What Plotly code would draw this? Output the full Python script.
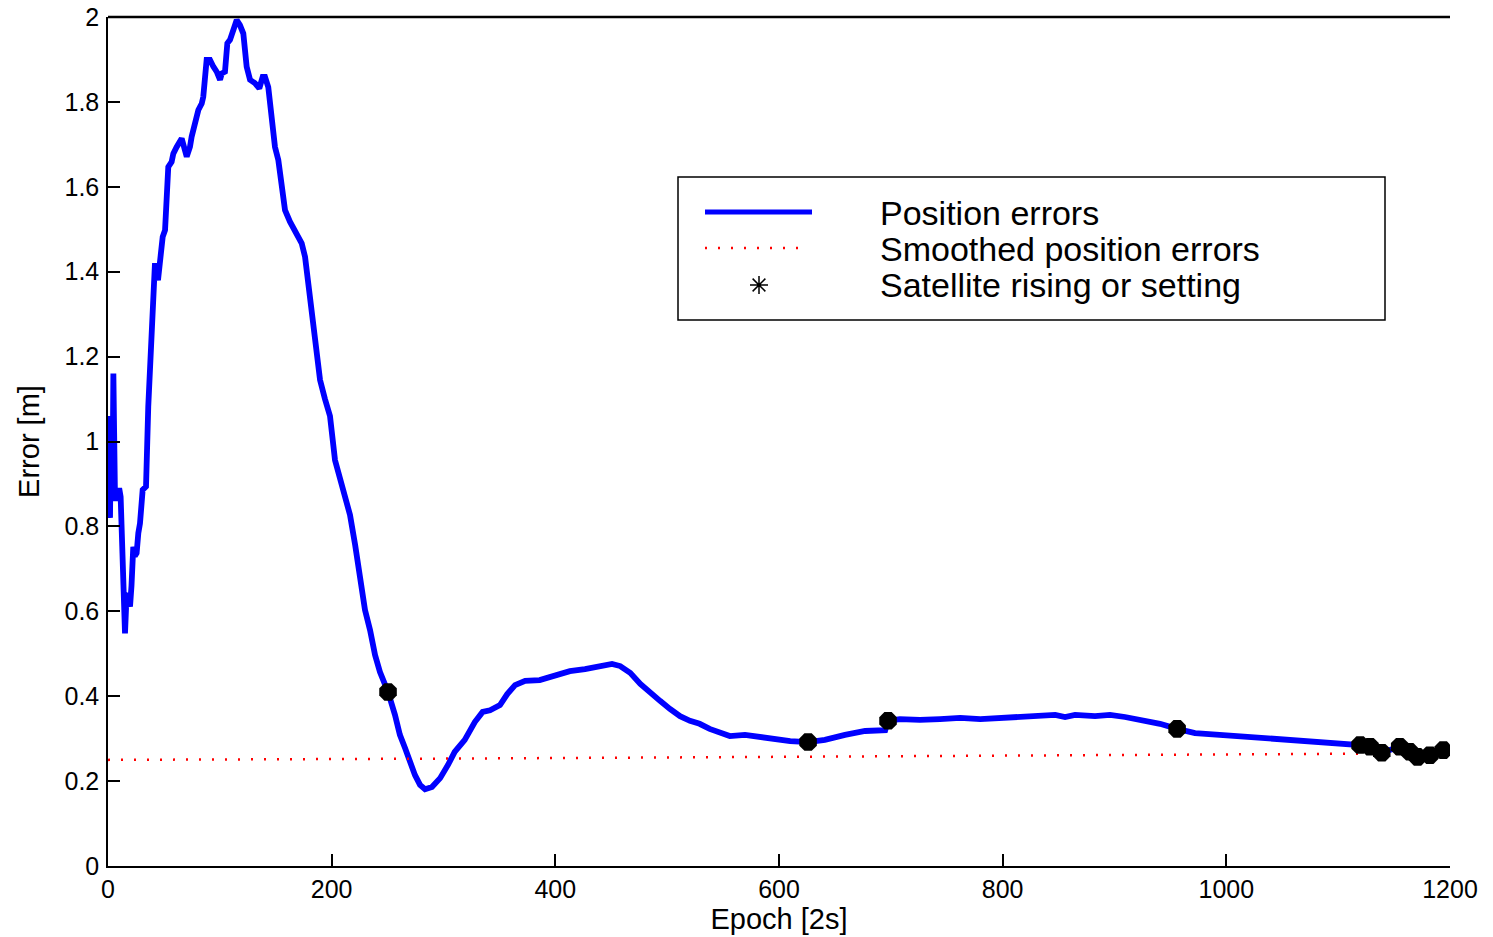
import plotly.graph_objects as go

# ---------------- data ----------------
epoch = [0, 0.5, 1.2, 1.8, 2.5, 3.3, 4.2, 4.8, 5.5, 6.3, 7.2, 8.5, 10, 11.3, 12.2, 13.8, 15.2,
         16.7, 18.3, 19.7, 21, 22.6, 24, 25.6, 27.1, 28.6, 31, 34, 36, 38.5, 40.3, 42, 44.7,
         46.5, 48.9, 51, 53.9, 56.9, 58.4, 61.4, 65.9, 70.4, 73.3, 74.8, 77.8, 80.8, 83.8,
         85.2, 88.2, 91.2, 94.2, 97.2, 100.2, 101.7, 104.6, 106.7, 109.1, 112, 115.1, 118,
         121, 124, 127, 131.4, 135.3, 138.3, 140.4, 143.3, 146.3, 149.3, 152.3, 155.3, 158.3,
         162.7, 165.7, 170.2, 173.2, 176.2, 180.6, 185, 189.6, 194, 198.5, 203, 207.5, 212,
         216.4, 221, 225.3, 229.8, 234.3, 238.8, 243.2, 250.4, 256.6, 261, 265.6, 270, 274.5,
         279, 283.5, 289.7, 297, 304, 310, 319, 328, 335, 341.6, 350.5, 357, 364, 373, 386,
         400, 413, 426.5, 440, 450.7, 458, 467, 476, 484.7, 493.6, 502.5, 511.5, 520.4, 529,
         538, 547, 556, 569.6, 583, 596.4, 610, 626, 641, 659, 677, 695, 697.5, 708, 726, 744,
         762, 780, 797.6, 815.5, 829, 847, 855.8, 864.7, 882.6, 896, 909.4, 922.8, 940.7, 956,
         972, 994, 1021, 1048, 1075, 1101.7, 1119.6, 1128.5, 1139, 1151, 1155, 1164, 1171,
         1182, 1194]
position_error = [1.06, 0.83, 1.05, 0.82, 1.0, 0.86, 0.95, 1.16, 1.02, 0.86, 0.89, 0.87,
                  0.89, 0.87, 0.81, 0.68, 0.548, 0.643, 0.63, 0.611, 0.66, 0.752, 0.73, 0.737,
                  0.784, 0.807, 0.886, 0.894, 1.082, 1.239, 1.3, 1.42, 1.38, 1.435, 1.482,
                  1.498, 1.647, 1.659, 1.678, 1.694, 1.714, 1.671, 1.694, 1.718, 1.749, 1.781,
                  1.796, 1.812, 1.899, 1.899, 1.883, 1.871, 1.852, 1.867, 1.871, 1.938, 1.946,
                  1.969, 1.993, 1.981, 1.961, 1.883, 1.852, 1.844, 1.832, 1.859, 1.859, 1.835,
                  1.757, 1.694, 1.663, 1.6, 1.545, 1.518, 1.502, 1.482, 1.467, 1.435, 1.33,
                  1.23, 1.145, 1.1, 1.06, 0.956, 0.91, 0.862, 0.827, 0.756, 0.674, 0.603,
                  0.556, 0.497, 0.457, 0.41, 0.356, 0.309, 0.278, 0.245, 0.214, 0.191, 0.181,
                  0.186, 0.207, 0.238, 0.269, 0.297, 0.339, 0.363, 0.367, 0.379, 0.405, 0.426,
                  0.436, 0.438, 0.448, 0.459, 0.464, 0.471, 0.476, 0.471, 0.455, 0.429, 0.408,
                  0.389, 0.37, 0.353, 0.342, 0.335, 0.323, 0.313, 0.306, 0.309, 0.304, 0.299,
                  0.294, 0.292, 0.297, 0.309, 0.318, 0.32, 0.342, 0.346, 0.344, 0.346, 0.349,
                  0.346, 0.349, 0.351, 0.356, 0.356, 0.351, 0.356, 0.353, 0.356, 0.351, 0.344,
                  0.335, 0.323, 0.313, 0.309, 0.304, 0.297, 0.292, 0.287, 0.285, 0.283, 0.267,
                  0.278, 0.281, 0.271, 0.259, 0.261, 0.273]

smooth_epoch = [0, 150, 300, 450, 600, 750, 900, 1050, 1150, 1194]
smooth_error = [0.250, 0.251, 0.253, 0.255, 0.257, 0.259, 0.260, 0.262, 0.265, 0.266]

event_epoch = [250.4, 626, 697.5, 956, 1119.6, 1128.5, 1139, 1155, 1164, 1171, 1182, 1194]
event_error = [0.41, 0.292, 0.342, 0.323, 0.285, 0.281, 0.267, 0.281, 0.269, 0.257, 0.261, 0.273]

x_ticks = [0, 200, 400, 600, 800, 1000, 1200]
y_ticks = [0, 0.2, 0.4, 0.6, 0.8, 1, 1.2, 1.4, 1.6, 1.8, 2]
y_tick_labels = ["0", "0.2", "0.4", "0.6", "0.8", "1", "1.2", "1.4", "1.6", "1.8", "2"]
legend_labels = ["Position errors", "Smoothed position errors", "Satellite rising or setting"]

# ---------------- layout helpers ----------------
# plot area lands on screen pixels x 108..1450, y 17..866 (page body margin removed)
W, H = 1493, 937
L, R, T, B = 108, 1450, 17, 866
FONT = "Liberation Sans, Arial, sans-serif"


def px(x):
    return (x - L) / (R - L)


def py(y):
    return (B - y) / (B - T)


fig = go.Figure()

fig.add_trace(go.Scatter(x=epoch, y=position_error, mode="lines",
                         line=dict(color="#0000ff", width=5.8), showlegend=False,
                         name=legend_labels[0]))
fig.add_trace(go.Scatter(x=smooth_epoch, y=smooth_error, mode="lines",
                         line=dict(color="#ff0000", width=2.5, dash="2px,11px"),
                         showlegend=False, name=legend_labels[1]))
fig.add_trace(go.Scatter(x=event_epoch, y=event_error, mode="markers",
                         marker=dict(symbol="octagon", size=19, color="black"),
                         showlegend=False, name=legend_labels[2]))

# legend asterisk glyph on a hidden overlay axis (paper-like 0..1)
fig.add_trace(go.Scatter(x=[px(759)], y=[py(285)], mode="markers", xaxis="x2", yaxis="y2",
                         marker=dict(symbol="asterisk-open", size=15, color="black",
                                     line=dict(color="black", width=1.5)),
                         showlegend=False, hoverinfo="skip"))

shapes = [
    # top border line
    dict(type="line", xref="paper", yref="paper", x0=0, x1=1, y0=1, y1=1,
         line=dict(color="black", width=2.5)),
    # legend box
    dict(type="rect", xref="paper", yref="paper", x0=px(678), x1=px(1385),
         y0=py(320), y1=py(177), line=dict(color="black", width=1.5),
         fillcolor="rgba(0,0,0,0)", layer="above"),
    dict(type="line", xref="paper", yref="paper", x0=px(705), x1=px(812),
         y0=py(212), y1=py(212), line=dict(color="#0000ff", width=5)),
    dict(type="line", xref="paper", yref="paper", x0=px(705), x1=px(806),
         y0=py(248), y1=py(248), line=dict(color="#ff0000", width=2.5, dash="2px,11px")),
]

annotations = []
for lab, yy in zip(legend_labels, [213, 249, 285]):
    annotations.append(dict(text=lab, xref="paper", yref="paper", x=px(878), y=py(yy),
                            xanchor="left", yanchor="middle", showarrow=False,
                            font=dict(family=FONT, size=34, color="black")))

fig.update_layout(
    width=W, height=H,
    margin=dict(l=L, r=W - R, t=T, b=H - B, pad=0),
    paper_bgcolor="white", plot_bgcolor="white",
    font=dict(family=FONT, color="black"),
    shapes=shapes, annotations=annotations,
    xaxis=dict(range=[0, 1200], tickvals=x_ticks, ticks="inside", ticklen=12,
               tickwidth=1.5, tickcolor="black", showline=True, linecolor="black",
               linewidth=1.5, showgrid=False, zeroline=False, automargin=False,
               ticklabeloverflow="allow",
               tickfont=dict(family=FONT, size=25, color="black"),
               title=dict(text="Epoch [2s]", font=dict(family=FONT, size=29), standoff=4)),
    yaxis=dict(range=[0, 2], tickvals=y_ticks, ticktext=y_tick_labels, ticks="inside",
               ticklen=12, tickwidth=1.5, tickcolor="black", showline=True,
               linecolor="black", linewidth=1.5, showgrid=False, zeroline=False,
               ticklabelstandoff=2, automargin=False, ticklabeloverflow="allow",
               tickfont=dict(family=FONT, size=25, color="black"),
               title=dict(text="Error [m]", font=dict(family=FONT, size=29), standoff=16)),
    xaxis2=dict(overlaying="x", range=[0, 1], visible=False, anchor="y2"),
    yaxis2=dict(overlaying="y", range=[0, 1], visible=False, anchor="x2"),
)

fig.write_html("out.html",
               config={"displayModeBar": False},
               post_script="document.body.style.margin='0px';"
                           "document.body.style.overflow='hidden';")
